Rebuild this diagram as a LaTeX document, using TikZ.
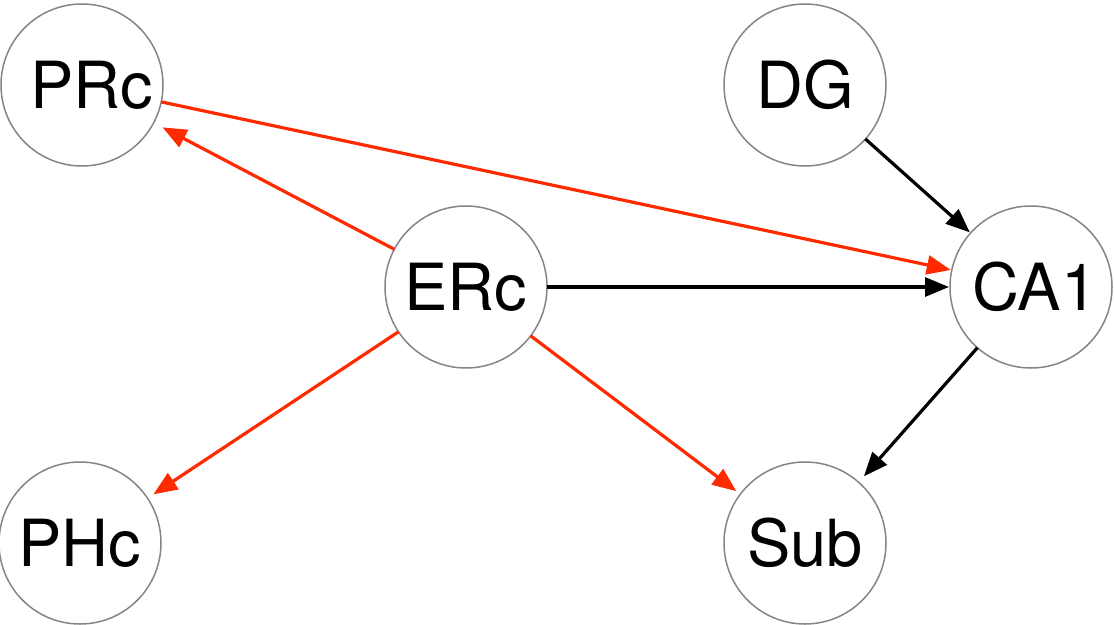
\documentclass[tikz,border=0pt]{standalone}
\usepackage{fontspec}
\setmainfont{TeX Gyre Heros}
\usetikzlibrary{arrows.meta}
\definecolor{edgered}{HTML}{FF2A00}
\definecolor{ringgray}{HTML}{858585}
\begin{document}
\begin{tikzpicture}[x=1pt,y=-1pt,
  region/.style={circle,draw=ringgray,line width=1.5pt,minimum size=162pt,inner sep=0pt,outer sep=0pt,
    font=\fontsize{65}{65}\selectfont},
  link/.style={line width=3.2pt,-{Triangle[length=24pt,width=19pt]}},
  redlink/.style={link,draw=edgered,fill=edgered},
  blacklink/.style={link,draw=black}]
\useasboundingbox (0,0) rectangle (1114,624);
\node[region] (PRc) at (82,85) {\hspace*{20pt}PRc};
\node[region] (DG) at (805,85) {DG};
\node[region] (ERc) at (466,287) {ERc};
\node[region] (CA1) at (1031,287) {\hspace*{8pt}CA1};
\node[region] (PHc) at (80,543) {PHc};
\node[region] (Sub) at (805,543) {Sub};
\draw[redlink,shorten >=10pt] (ERc) -- (PRc);
\draw[redlink,shorten >=1pt] (PRc) -- (CA1);
\draw[blacklink,shorten >=1pt] (ERc) -- (CA1);
\draw[redlink,shorten >=7pt] (ERc) -- (PHc);
\draw[redlink,shorten >=5pt] (ERc) -- (Sub);
\draw[blacklink,shorten >=1pt] (DG) -- (CA1);
\draw[blacklink,shorten >=8pt] (CA1) -- (Sub);
\end{tikzpicture}
\end{document}
